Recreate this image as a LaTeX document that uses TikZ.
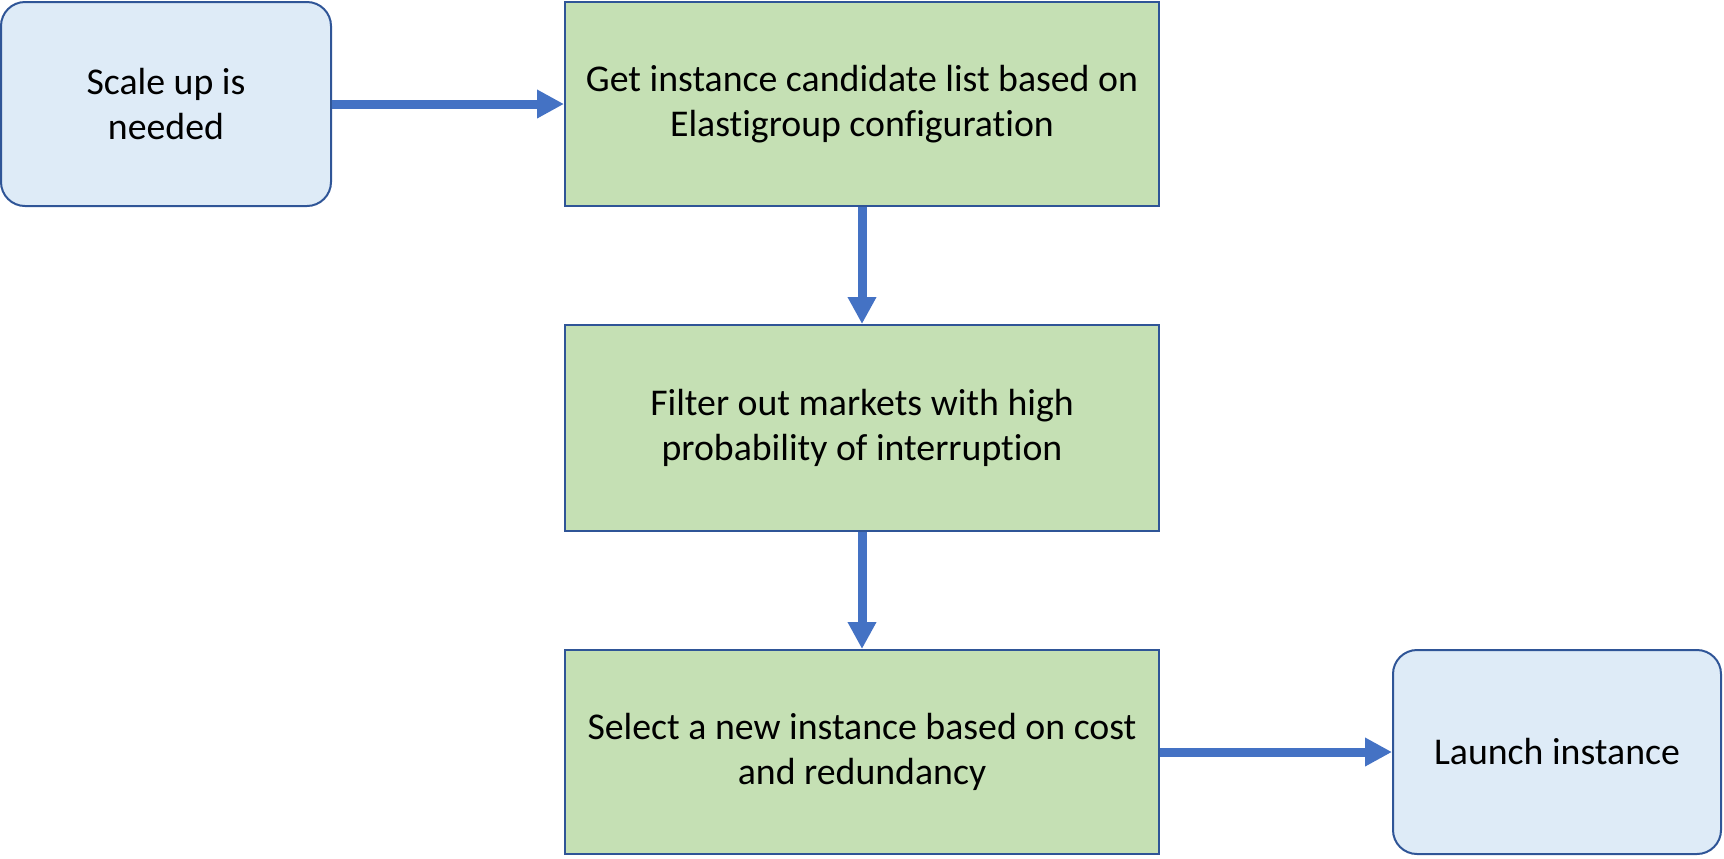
\documentclass[tikz,border=0pt]{standalone}
\usepackage{fontspec}
\setmainfont[Ligatures=NoCommon]{Carlito}
\usepackage{xcolor}
\usetikzlibrary{arrows.meta}

\definecolor{startfill}{HTML}{DEEBF7}
\definecolor{stepfill}{HTML}{C5E0B4}
\definecolor{boxline}{HTML}{2F5597}
\definecolor{flowarrow}{HTML}{4472C4}

\begin{document}
\begin{tikzpicture}[x=0.5pt,y=-0.5pt,
  endbox/.style={draw=boxline, line width=1pt, fill=startfill, rounded corners=12pt,
    minimum width=165pt, minimum height=102pt, align=center, inner sep=0pt},
  stepbox/.style={draw=boxline, line width=1pt, fill=stepfill,
    minimum width=297pt, minimum height=102pt, align=center, inner sep=0pt},
  flow/.style={draw=flowarrow, line width=4.5pt, -{Triangle[length=13.5pt,width=13.5pt]}}]
\useasboundingbox (0,0) rectangle (1724,858);
\fontsize{18.9pt}{22.7pt}\selectfont

\node[endbox] (scale) at (166,104) {Scale up is\\needed};
\node[stepbox] (get) at (862,104) {Get instance candidate list based on\\Elastigroup configuration};
\node[stepbox, minimum height=103pt] (filter) at (862,428) {Filter out markets with high\\probability of interruption};
\node[stepbox] (select) at (862,752) {Select a new instance based on cost\\and redundancy};
\node[endbox, minimum width=164pt] (launch) at (1557,752) {Launch instance};

\draw[flow] (scale) -- (get);
\draw[flow] (get) -- (filter);
\draw[flow] (filter) -- (select);
\draw[flow] (select) -- (launch);
\end{tikzpicture}
\end{document}
